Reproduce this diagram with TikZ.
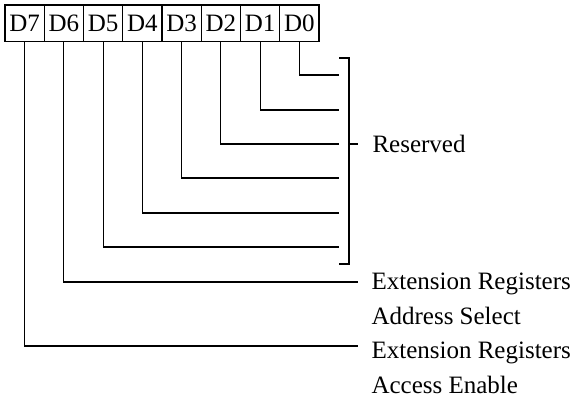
\documentclass[tikz,border=0pt]{standalone}
\usepackage{fontspec}
\setmainfont{Liberation Serif}
\begin{document}
\begin{tikzpicture}[x=1pt,y=-1pt,line width=1.1pt,
  cell/.style={draw,rectangle,inner sep=0pt,minimum width=39.25pt,minimum height=36.5pt,
    text height=16.5pt,text depth=0pt,font=\fontsize{25}{30}\selectfont},
  lbl/.style={anchor=base west,inner sep=0pt,font=\fontsize{25}{30}\selectfont}]
\useasboundingbox (0,0) rectangle (577,399);
% register cells
\foreach \i/\n in {0/7,1/6,2/5,3/4,4/3,5/2,6/1,7/0}{
  \node[cell] (d\n) at ({5+19.625+39.25*\i},23.25) {D\n};
}
% reserved line ends
\coordinate (r0) at (339,75);
\coordinate (r1) at (339,110);
\coordinate (r2) at (339,144);
\coordinate (r3) at (339,178);
\coordinate (r4) at (339,213);
\coordinate (r5) at (339,247);
\draw (d0.south) |- (r0);
\draw (d1.south) |- (r1);
\draw (d2.south) |- (r2);
\draw (d3.south) |- (r3);
\draw (d4.south) |- (r4);
\draw (d5.south) |- (r5);
% bracket
\coordinate (bt) at (339,58);
\coordinate (bb) at (339,264);
\coordinate (bm) at (349,144);
\coordinate (bmt) at (358,144);
\draw (bt) -| (349,264) -- (bb);
\draw (bm) -- (bmt);
\node[lbl] (res) at (372,152.5) {Reserved};
% D6, D7
\coordinate (e6) at (358,282);
\coordinate (e7) at (358,346);
\draw (d6.south) |- (e6);
\draw (d7.south) |- (e7);
\node[lbl] (t1) at (371,289.3) {Extension Registers};
\node[lbl] (t2) at (371,324) {Address Select};
\node[lbl] (t3) at (371,358.5) {Extension Registers};
\node[lbl] (t4) at (371,393) {Access Enable};
\end{tikzpicture}
\end{document}
